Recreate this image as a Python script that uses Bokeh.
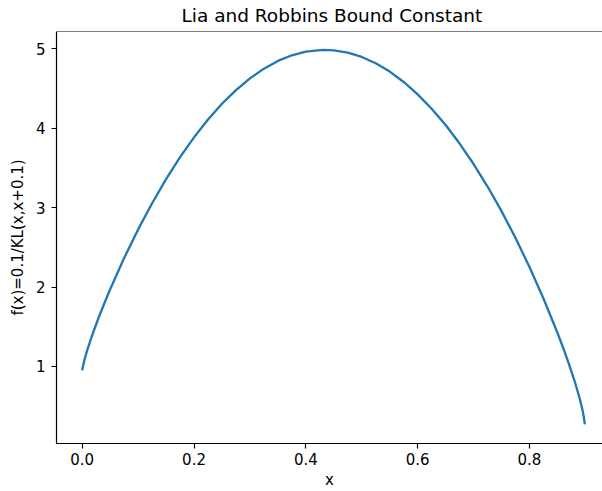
from bokeh.plotting import figure
from bokeh.models import Range1d, FixedTicker, Span
from bokeh.embed import file_html
from bokeh.resources import INLINE

x_vals = [0.0, 0.001, 0.005, 0.01, 0.015, 0.02, 0.03, 0.04, 0.05, 0.075, 0.1, 0.125,
          0.15, 0.175, 0.2, 0.225, 0.25, 0.275, 0.3, 0.325, 0.35, 0.375, 0.4, 0.43,
          0.45, 0.475, 0.5, 0.525, 0.55, 0.575, 0.6, 0.625, 0.65, 0.675, 0.7, 0.725,
          0.75, 0.775, 0.8, 0.825, 0.85, 0.86, 0.87, 0.88, 0.89, 0.895, 0.897, 0.899]
y_vals = [0.949, 0.993, 1.109, 1.228, 1.335, 1.436, 1.625, 1.802, 1.971, 2.365, 2.726, 3.056,
          3.360, 3.636, 3.886, 4.111, 4.309, 4.482, 4.629, 4.752, 4.849, 4.920, 4.966, 4.989,
          4.983, 4.954, 4.899, 4.819, 4.715, 4.584, 4.428, 4.247, 4.041, 3.808, 3.550, 3.266,
          2.956, 2.618, 2.252, 1.856, 1.424, 1.238, 1.042, 0.831, 0.592, 0.445, 0.371, 0.269]

x_ticks = [0.0, 0.2, 0.4, 0.6, 0.8]
x_tick_labels = ["0.0", "0.2", "0.4", "0.6", "0.8"]
y_ticks = [1, 2, 3, 4, 5]
y_tick_labels = ["1", "2", "3", "4", "5"]

X_START, X_END = -0.046, 0.9306
Y_START, Y_END = 0.028, 5.220

FONT = "DejaVu Sans"

p = figure(width=602, height=491, output_backend="svg", toolbar_location=None,
           x_range=Range1d(X_START, X_END), y_range=Range1d(Y_START, Y_END),
           title="Lia and Robbins Bound Constant",
           min_border_left=56, min_border_right=0, min_border_top=31, min_border_bottom=0)

p.line(x_vals, y_vals, line_color="#1f77b4", line_width=2.3)

p.grid.visible = False
p.outline_line_color = None
p.background_fill_color = "white"
p.border_fill_color = "white"

p.title.text_font = FONT
p.title.text_font_size = "18.5px"
p.title.text_font_style = "normal"
p.title.text_color = "#000000"
p.title.align = "left"
p.title.offset = 125
p.title.vertical_align = "top"
p.title.standoff = 7

for ax in (p.xaxis[0], p.yaxis[0]):
    ax.axis_line_color = "#000000"
    ax.axis_line_width = 1.2
    ax.major_tick_line_color = "#000000"
    ax.major_tick_line_width = 1.2
    ax.major_tick_in = 0
    ax.major_tick_out = 5
    ax.minor_tick_line_color = None
    ax.major_label_text_font = FONT
    ax.major_label_text_font_size = "15px"
    ax.major_label_text_color = "#000000"
    ax.axis_label_text_font = FONT
    ax.axis_label_text_font_size = "15px"
    ax.axis_label_text_font_style = "normal"
    ax.axis_label_text_color = "#000000"

p.xaxis[0].ticker = FixedTicker(ticks=x_ticks)
p.xaxis[0].major_label_overrides = dict(zip(x_ticks, x_tick_labels))
p.yaxis[0].ticker = FixedTicker(ticks=y_ticks)
p.yaxis[0].major_label_overrides = dict(zip(y_ticks, y_tick_labels))

p.xaxis[0].major_label_standoff = 4
p.xaxis[0].axis_label = "x"
p.xaxis[0].axis_label_standoff = 3
p.yaxis[0].major_label_standoff = 6
p.yaxis[0].axis_label = "f(x)=0.1/KL(x,x+0.1)"
p.yaxis[0].axis_label_standoff = 6

# top spine (the right one is cropped away in the reference)
p.add_layout(Span(location=Y_END, dimension="width", line_color="#000000", line_width=1.2))

open("out.html", "w").write(file_html(p, INLINE))
